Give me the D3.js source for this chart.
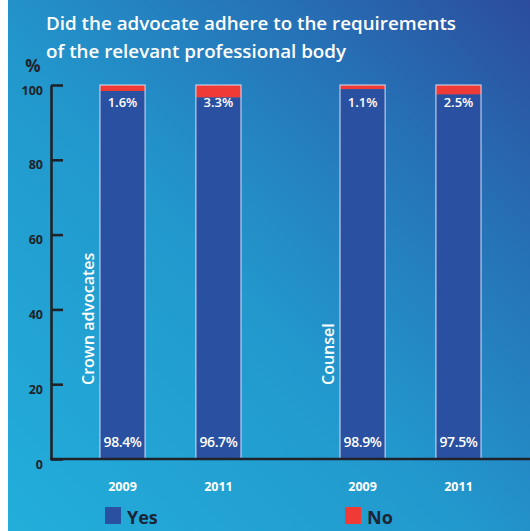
<!DOCTYPE html>
<html>
<head>
<meta charset="utf-8">
<script src="https://cdn.jsdelivr.net/npm/d3@7"></script>
<style>
  html, body { margin: 0; padding: 0; background: #fff; }
  svg { display: block; }
  text { font-family: "Open Sans", "DejaVu Sans", sans-serif; }
</style>
</head>
<body>
<svg id="chart" width="530" height="531"></svg>
<script>
// Groups and years along the x axis
const groups = ["Crown advocates", "Counsel"];
const years = ["2009", "2011"];
// Share of cases (%) per group/year, in the order groups x years
const yesValues = [98.4, 96.7, 98.9, 97.5];
const noValues = [1.6, 3.3, 1.1, 2.5];
const yTicks = [0, 20, 40, 60, 80, 100];
const seriesNames = ["Yes", "No"];
const seriesColors = ["#2a51a1", "#ef3a35"];

const rows = [];
groups.forEach((g, gi) => years.forEach((y, yi) => {
  const i = gi * years.length + yi;
  rows.push({ group: g, year: y, Yes: yesValues[i], No: noValues[i] });
}));

const svg = d3.select("#chart");
const W = 530, H = 531;

// Background panel with diagonal gradient
const defs = svg.append("defs");
const grad = defs.append("linearGradient").attr("id", "bg")
  .attr("x1", "0%").attr("y1", "100%").attr("x2", "100%").attr("y2", "0%");
grad.append("stop").attr("offset", "0%").attr("stop-color", "#22aeda");
grad.append("stop").attr("offset", "45%").attr("stop-color", "#2298cd");
grad.append("stop").attr("offset", "75%").attr("stop-color", "#2672b6");
grad.append("stop").attr("offset", "100%").attr("stop-color", "#2c4c9d");
svg.append("rect").attr("x", 8).attr("y", 0).attr("width", W - 8).attr("height", H)
  .attr("fill", "url(#bg)");

// Scales
const y = d3.scaleLinear().domain([0, 100]).range([459, 85]);
const xGroup = d3.scaleBand().domain(groups).range([51, 530])
  .paddingInner(0.4125).paddingOuter(0.204);
const xYear = d3.scaleBand().domain(years).range([0, xGroup.bandwidth()])
  .paddingInner(0.53).paddingOuter(0);

// Stacked bars
const stack = d3.stack().keys(seriesNames);
const stacked = stack(rows);
const color = d3.scaleOrdinal().domain(seriesNames).range(seriesColors);

stacked.forEach(layer => {
  svg.append("g").selectAll("rect").data(layer).join("rect")
    .attr("x", d => xGroup(d.data.group) + xYear(d.data.year))
    .attr("width", xYear.bandwidth())
    .attr("y", d => y(d[1]))
    .attr("height", d => y(d[0]) - y(d[1]))
    .attr("fill", color(layer.key));
});

// Thin light outline around each full bar
svg.append("g").selectAll("rect").data(rows).join("rect")
  .attr("x", d => xGroup(d.group) + xYear(d.year))
  .attr("width", xYear.bandwidth())
  .attr("y", y(100))
  .attr("height", y(0) - y(100))
  .attr("fill", "none")
  .attr("stroke", "#d4e2f4")
  .attr("stroke-width", 1);

// Value labels: "No" near the top, "Yes" near the bottom
const barCenter = d => xGroup(d.group) + xYear(d.year) + xYear.bandwidth() / 2;
svg.append("g").selectAll("text").data(rows).join("text")
  .attr("x", barCenter)
  .attr("y", 107)
  .attr("text-anchor", "middle")
  .attr("fill", "#ffffff")
  .attr("font-size", 13)
  .attr("font-weight", 600)
  .text(d => d.No.toFixed(1) + "%");
svg.append("g").selectAll("text").data(rows).join("text")
  .attr("x", barCenter)
  .attr("y", 447)
  .attr("text-anchor", "middle")
  .attr("fill", "#ffffff")
  .attr("font-size", 14)
  .attr("font-weight", 600)
  .attr("letter-spacing", -0.4)
  .text(d => d.Yes.toFixed(1) + "%");

// Year labels under the axis
svg.append("g").selectAll("text").data(rows).join("text")
  .attr("x", barCenter)
  .attr("y", 491)
  .attr("text-anchor", "middle")
  .attr("fill", "#ffffff")
  .attr("font-size", 12.5)
  .attr("font-weight", 700)
  .text(d => d.year);

// Group labels, rotated, left of each group
svg.append("g").selectAll("text").data(groups).join("text")
  .attr("transform", g => `translate(${xGroup(g) - 6},385) rotate(-90)`)
  .attr("text-anchor", "start")
  .attr("fill", "#ffffff")
  .attr("font-size", 16)
  .attr("font-weight", 600)
  .text(g => g);

// Y axis with ticks pointing into the plot
const yAxis = d3.axisLeft(y).tickValues(yTicks).tickSizeInner(-12).tickSizeOuter(0).tickPadding(8);
const gy = svg.append("g").attr("transform", "translate(51,0)").call(yAxis);
gy.select(".domain").attr("stroke", "#1f2329").attr("stroke-width", 2.6);
gy.selectAll(".tick line").attr("stroke", "#1f2329").attr("stroke-width", 2.6);
gy.selectAll(".tick text").attr("fill", "#1f2329").attr("font-size", 12.5)
  .attr("font-weight", 700).attr("font-family", "\"Open Sans\", sans-serif")
  .attr("dy", "0.72em");

// X axis baseline
svg.append("line").attr("x1", 50).attr("x2", 530).attr("y1", y(0)).attr("y2", y(0))
  .attr("stroke", "#1f2329").attr("stroke-width", 2.6);

// Unit label
svg.append("text").attr("x", 33).attr("y", 72).attr("text-anchor", "middle")
  .attr("fill", "#1f2329").attr("font-size", 17).attr("font-weight", 700).text("%");

// Title
const title = svg.append("text").attr("x", 46).attr("fill", "#ffffff")
  .attr("font-size", 18.8).attr("font-weight", 600);
title.append("tspan").attr("x", 46).attr("y", 30).text("Did the advocate adhere to the requirements");
title.append("tspan").attr("x", 46).attr("y", 58).text("of the relevant professional body");

// Legend
const legendX = [105, 345];
const legend = svg.append("g").selectAll("g").data(seriesNames).join("g")
  .attr("transform", (d, i) => `translate(${legendX[i]},507)`);
legend.append("rect").attr("width", 16).attr("height", 17).attr("fill", d => color(d));
legend.append("text").attr("x", 22).attr("y", 17).attr("fill", "#1a2638")
  .attr("font-size", 18).attr("font-weight", 700).text(d => d);
</script>
</body>
</html>
